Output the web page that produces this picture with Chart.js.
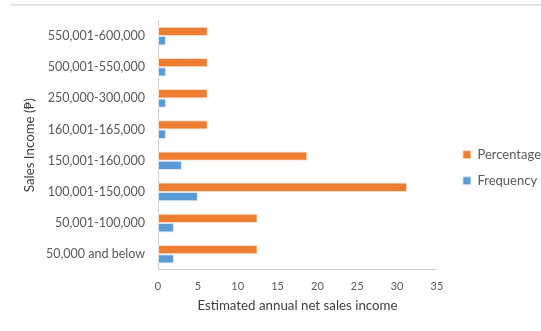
<!DOCTYPE html>
<html><head><meta charset="utf-8">
<script src="https://cdn.jsdelivr.net/npm/chart.js@4"></script>
<style>
html,body{margin:0;padding:0;background:#fff;}
#wrap{position:relative;width:541px;height:331px;}
#topline{position:absolute;left:11px;right:0;top:4px;height:0;border-top:2px solid #e4e4e4;}
</style></head>
<body>
<div id="wrap"><div id="topline"></div><canvas id="c" width="541" height="331"></canvas></div>
<script>
const categories = ["550,001-600,000","500,001-550,000","250,000-300,000","160,001-165,000","150,001-160,000","100,001-150,000","50,001-100,000","50,000 and below"];
const percentage = [6.25, 6.25, 6.25, 6.25, 18.75, 31.25, 12.5, 12.5];
const frequency = [1, 1, 1, 1, 3, 5, 2, 2];
const xTicks = [0,5,10,15,20,25,30,35];

const FONT = "Lato, 'Open Sans', sans-serif";
const legendShift = {
  id: 'legendShift',
  afterLayout(chart) {
    const l = chart.legend; if (!l) return;
    l.left += 13; l.right += 13;
    l.top += 3; l.bottom += 3;
  }
};
new Chart(document.getElementById('c'), {
  type: 'bar',
  data: {
    labels: categories,
    datasets: [
      {label: 'Percentage', data: percentage, backgroundColor: '#ed7d31', borderColor: '#fbe0cf', borderWidth: 1, borderSkipped: false},
      {label: 'Frequency', data: frequency, backgroundColor: '#5b9bd5', borderColor: '#d6e6f5', borderWidth: 1, borderSkipped: false}
    ]
  },
  options: {
    indexAxis: 'y',
    responsive: false,
    animation: false,
    devicePixelRatio: 1,
    datasets: {bar: {categoryPercentage: 0.6, barPercentage: 1}},
    layout: {padding: {top: 15.5, bottom: 17, left: 22, right: 3}},
    scales: {
      x: {
        min: 0, max: 35,
        afterBuildTicks: (s) => { s.ticks = xTicks.map(v => ({value: v})); },
        grid: {display: false, drawTicks: false},
        border: {display: true, color: '#d0d0d0', width: 1},
        ticks: {color: '#595959', font: {family: FONT, size: 11}, padding: 10},
        title: {display: true, text: 'Estimated annual net sales income', color: '#404040', font: {family: FONT, size: 13.3}, padding: {top: -5, bottom: 0}}
      },
      y: {
        afterFit: (s) => { s.width = 136; },
        grid: {display: false, drawTicks: false},
        border: {display: true, color: '#d0d0d0', width: 1},
        ticks: {color: '#595959', font: {family: FONT, size: 12.5}, padding: 13},
        title: {display: true, text: 'Sales Income (₱)', color: '#404040', font: {family: FONT, size: 13.3}, padding: {top: 0, bottom: 8}}
      }
    },
    plugins: {
      legend: {
        position: 'right',
        labels: {boxWidth: 8, boxHeight: 8, padding: 13, color: '#595959', font: {family: FONT, size: 13}}
      },
      tooltip: {enabled: false}
    }
  },
  plugins: [legendShift]
});
</script>
</body></html>
